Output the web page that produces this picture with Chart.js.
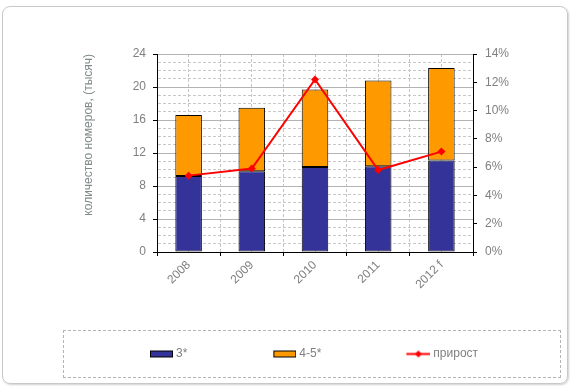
<!DOCTYPE html>
<html>
<head>
<meta charset="utf-8">
<script src="https://cdn.jsdelivr.net/npm/chart.js@4/dist/chart.umd.min.js"></script>
<style>
  body { margin: 0; background: #fff; }
  #wrap { position: relative; width: 572px; height: 391px; }
  #frame { position: absolute; left: 2px; top: 6px; width: 564px; height: 376px;
           border: 1px solid #c8c8c8; border-radius: 8px; box-shadow: 1px 1px 2px #d0d0d0; }
  #legendFrame { position: absolute; left: 63px; top: 330px; width: 496px; height: 46px;
                 border: 1px dashed #b4b4b4; }
  canvas { position: absolute; left: 0; top: 0; }
</style>
</head>
<body>
<div id="wrap">
  <div id="frame"></div>
  <div id="legendFrame"></div>
  <canvas id="chart" width="572" height="391"></canvas>
</div>
<script>
// data
const years = ["2008", "2009", "2010", "2011", "2012 f"];
const threeStar = [9.2, 9.8, 10.3, 10.4, 11.1];
const fourFiveStar = [7.4, 7.7, 9.4, 10.4, 11.2];
const growth = [5.4, 5.9, 12.2, 5.8, 7.1];   // %

const grey = "#808080";
const font = { family: "Arial, 'Liberation Sans', sans-serif", size: 12 };

// legend icons: wide canvas, mark sits at the right end next to the text
function makeIcon(draw) {
  const cv = document.createElement("canvas");
  cv.width = 54; cv.height = 9;
  draw(cv.getContext("2d"));
  return cv;
}
const boxIcon = color => makeIcon(c => {
  c.fillStyle = color;
  c.fillRect(31, 1, 23, 7);
  c.strokeStyle = "#000"; c.lineWidth = 1;
  c.strokeRect(31.5, 1.5, 22, 6);
});
const lineIcon = makeIcon(c => {
  c.strokeStyle = "#ff0000"; c.lineWidth = 2;
  c.beginPath(); c.moveTo(30, 4.5); c.lineTo(54, 4.5); c.stroke();
  c.fillStyle = "#ff0000";
  c.beginPath(); c.moveTo(42, 1); c.lineTo(45.5, 4.5); c.lineTo(42, 8); c.lineTo(38.5, 4.5); c.closePath(); c.fill();
});
const icons = [boxIcon("#333399"), boxIcon("#ff9900"), lineIcon];

new Chart(document.getElementById("chart"), {
  type: 'bar',
  data: {
    labels: years,
    datasets: [
      {
        label: "3*",
        data: threeStar,
        backgroundColor: "#333399",
        borderColor: "#000",
        borderWidth: 1,
        borderSkipped: false,
        barPercentage: 0.42,
        categoryPercentage: 1,
        order: 2
      }, {
        label: "4-5*",
        data: fourFiveStar,
        backgroundColor: "#ff9900",
        borderColor: "#000",
        borderWidth: 1,
        borderSkipped: false,
        barPercentage: 0.42,
        categoryPercentage: 1,
        order: 2
      }, {
        type: 'line',
        label: "прирост",
        data: growth,
        yAxisID: 'y1',
        borderColor: "#ff0000",
        backgroundColor: "#ff0000",
        borderWidth: 2,
        tension: 0,
        pointStyle: 'rectRot',
        pointRadius: 4,
        pointBorderWidth: 0,
        order: 1
      }
    ]
  },
  options: {
    responsive: false,
    animation: false,
    layout: { padding: { left: 64, right: 0, top: 54, bottom: 21 } },
    scales: {
      x: {
        stacked: true,
        offset: true,
        grid: { offset: true, color: "#c4c4c4", tickColor: "#000", tickLength: 4 },
        border: { color: "#000", dash: [3, 2] },
        ticks: { color: grey, font: font, minRotation: 45, maxRotation: 45, padding: 2 },
        afterFit(scale) { scale.height = 38; }
      },
      x2: {
        type: 'category',
        position: 'bottom',
        offset: true,
        grid: { offset: false, drawTicks: false, color: "#c4c4c4" },
        border: { display: false, dash: [3, 2] },
        ticks: { display: false }
      },
      y: {
        stacked: true,
        min: 0,
        max: 24,
        ticks: {
          stepSize: 1,
          autoSkip: false,
          color: grey,
          font: font,
          padding: 7,
          callback: v => (v % 4 === 0 ? v : '')
        },
        grid: {
          color: c => (c.tick && c.tick.value % 4 !== 0 ? "#c8c8c8" : "#b4b4b4"),
          tickColor: c => (c.tick && c.tick.value % 4 !== 0 ? "rgba(0,0,0,0)" : "#000"),
          tickLength: 4
        },
        border: {
          color: "#000",
          dash: c => (c.tick && c.tick.value % 4 !== 0 ? [3, 2] : [])
        },
        title: {
          display: true,
          text: "количество номеров, (тысяч)",
          color: "#7f8a8a",
          font: { family: font.family, size: 12 },
          align: 'end',
          padding: { top: 17, bottom: 0 }
        },
        afterFit(scale) { scale.width = 93; }
      },
      y1: {
        position: 'right',
        min: 0,
        max: 14,
        ticks: { stepSize: 2, color: grey, font: font, padding: 8, callback: v => v + '%' },
        grid: { drawOnChartArea: false, tickColor: "#000", tickLength: 4 },
        border: { color: "#000" },
        afterFit(scale) { scale.width = 99; }
      }
    },
    plugins: {
      tooltip: { enabled: false },
      legend: {
        position: 'bottom',
        align: 'start',
        labels: {
          usePointStyle: true,
          pointStyleWidth: 48,
          boxHeight: 7,
          padding: 58,
          color: grey,
          font: font,
          sort: (a, b) => a.datasetIndex - b.datasetIndex,
          generateLabels(chart) {
            const items = Chart.defaults.plugins.legend.labels.generateLabels(chart);
            items.forEach(it => { it.pointStyle = icons[it.datasetIndex]; });
            return items;
          }
        }
      }
    }
  }
});
</script>
</body>
</html>
